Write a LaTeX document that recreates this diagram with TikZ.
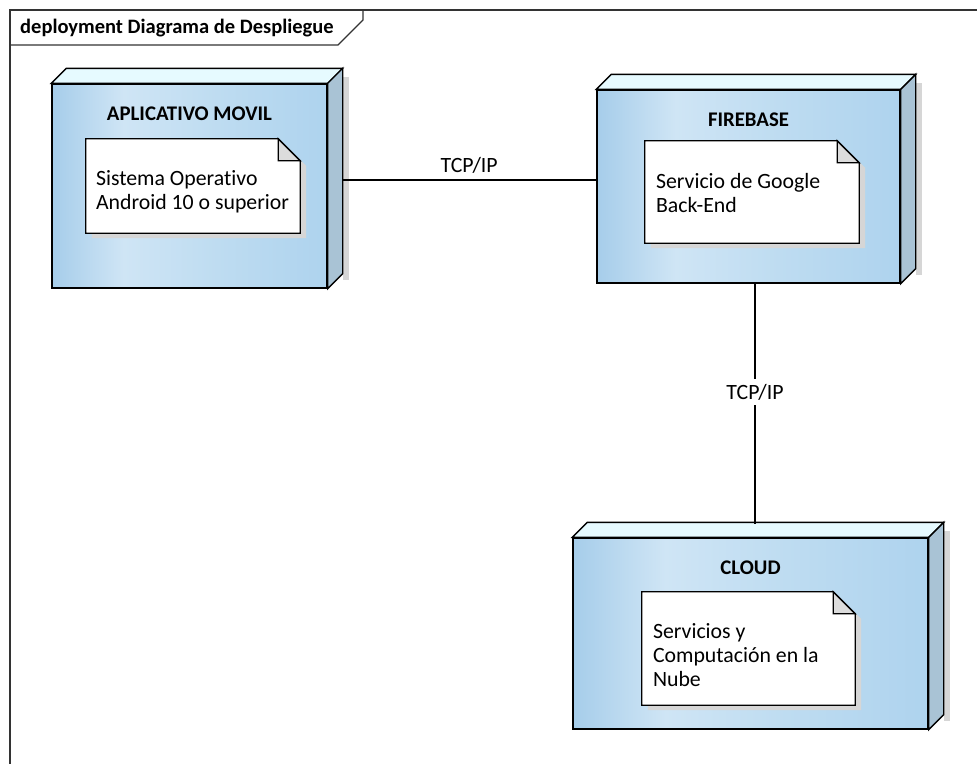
\documentclass[tikz,border=0pt]{standalone}
\usepackage{fontspec}
\setmainfont{Carlito}[Ligatures=NoCommon]
\usetikzlibrary{calc}

% palette
\definecolor{faceL}{HTML}{A6CDEA}
\definecolor{faceM}{HTML}{CFE5F5}
\definecolor{faceN}{HTML}{BEDCF1}
\definecolor{faceR}{HTML}{AED3EE}
\definecolor{topface}{HTML}{E6FAFF}
\definecolor{sideface}{HTML}{A9C3D5}
\definecolor{shadowgray}{HTML}{D6D6D6}
\definecolor{foldgray}{HTML}{DCDCDC}

% front face of a device: light stripe a little left of the middle
\pgfdeclarehorizontalshading{devface}{100bp}{%
  color(0bp)=(faceL); color(25bp)=(faceL); color(38bp)=(faceM);
  color(55bp)=(faceN); color(75bp)=(faceR); color(100bp)=(faceR)}

\tikzset{
  edge/.style={line width=1.4pt, black},
  devfront/.style={rectangle, inner sep=0pt, draw=black, line width=1.4pt,
                   shade, shading=devface},
  devedge/.style={draw=black, line width=1.4pt, line join=miter},
  noteframe/.style={rectangle, inner sep=0pt, draw=none},
  noteedge/.style={draw=black, line width=1.3pt, line join=miter},
  devtitle/.style={font=\fontsize{20.8}{24}\selectfont\bfseries, inner sep=0pt},
  notetext/.style={font=\fontsize{21.8}{24}\selectfont, align=left,
                   inner sep=0pt, anchor=north west},
  conlabel/.style={font=\fontsize{21.8}{24}\selectfont, inner sep=0pt},
  frameline/.style={draw=black!80, line width=1.3pt},
}

% 3-D box around a front-face node: shadow, top face and side face
\newcommand\devicebox[1]{%
  \fill[shadowgray] ($(#1.north east)+(15,-6)$) rectangle ($(#1.south east)+(21,-9)$);
  \draw[devedge, fill=topface] (#1.north west) -- ++(15,-15)
     -- ($(#1.north east)+(15,-15)$) -- (#1.north east) -- cycle;
  \draw[devedge, fill=sideface] (#1.north east) -- ($(#1.north east)+(15,-15)$)
     -- ($(#1.south east)+(15,-15)$) -- (#1.south east) -- cycle;
}

% note with a folded top-right corner and a drop shadow
\newcommand\foldnote[1]{%
  \fill[shadowgray] ($(#1.north west)+(6,5)$) -- ($(#1.north east)+(-16,5)$)
     -- ($(#1.north east)+(6,27)$) -- ($(#1.south east)+(6,5)$)
     -- ($(#1.south west)+(6,5)$) -- cycle;
  \draw[noteedge, fill=white] (#1.north west) -- ($(#1.north east)+(-22,0)$)
     -- ($(#1.north east)+(0,22)$) -- (#1.south east) -- (#1.south west) -- cycle;
  \draw[noteedge, fill=foldgray] ($(#1.north east)+(-22,0)$)
     -- ($(#1.north east)+(-22,22)$) -- ($(#1.north east)+(0,22)$) -- cycle;
}

\begin{document}
\begin{tikzpicture}[x=1pt, y=-1pt]
  \useasboundingbox[fill=white] (0,0) rectangle (977,763);

  % diagram frame with its name tab
  \draw[frameline] (10,770) -- (10,10) -- (980,10);
  \draw[frameline] (10,45) -- (338,45) -- (363,20) -- (363,10);
  \node[devtitle, font=\fontsize{20.5}{24}\selectfont\bfseries, anchor=base west]
       (frametitle) at (20,33.5) {deployment Diagrama de Despliegue};

  % end points of the communication paths
  \coordinate (hline) at (342,180);
  \coordinate (vtop) at (755,283);
  \coordinate (vbot) at (755,524);

  % devices
  \node[devfront, minimum width=275pt, minimum height=204pt] (movil) at (189.5,186) {};
  \devicebox{movil}
  \node[devfront, minimum width=303pt, minimum height=193pt] (firebase) at (748.5,186.5) {};
  \devicebox{firebase}
  \node[devfront, minimum width=355pt, minimum height=191pt] (cloud) at (750.5,633.5) {};
  \devicebox{cloud}

  \node[devtitle, anchor=base] (movil-title) at ($(movil.north)+(0,37.5)$) {APLICATIVO MOVIL};
  \node[devtitle, anchor=base] (firebase-title) at ($(firebase.north)+(0,37)$) {FIREBASE};
  \node[devtitle, anchor=base] (cloud-title) at ($(cloud.north)+(0,37.5)$) {CLOUD};

  % notes
  \node[noteframe, minimum width=214pt, minimum height=94pt] (movilnote) at (193,186) {};
  \foldnote{movilnote}
  \node[notetext] (movilnote-text) at ($(movilnote.north west)+(10,30)$)
       {\strut Sistema Operativo\\Android 10 o superior};

  \node[noteframe, minimum width=214pt, minimum height=102pt] (firebasenote) at (752,192) {};
  \foldnote{firebasenote}
  \node[notetext] (firebasenote-text) at ($(firebasenote.north west)+(11,31)$)
       {\strut Servicio de Google\\Back-End};

  \node[noteframe, minimum width=213pt, minimum height=113pt] (cloudnote) at (748.5,648.5) {};
  \foldnote{cloudnote}
  \node[notetext] (cloudnote-text) at ($(cloudnote.north west)+(11,30)$)
       {\strut Servicios y\\Computación en la\\Nube};

  % communication paths
  \draw[edge] (hline) -- (hline -| firebase.west)
     node[conlabel, midway, anchor=base, yshift=8pt] (tcp1) {TCP/IP};
  \draw[edge] (vtop) -- (vbot)
     node[conlabel, pos=0.452, fill=white, inner xsep=1pt, inner ysep=5pt] (tcp2) {TCP/IP};
\end{tikzpicture}
\end{document}
